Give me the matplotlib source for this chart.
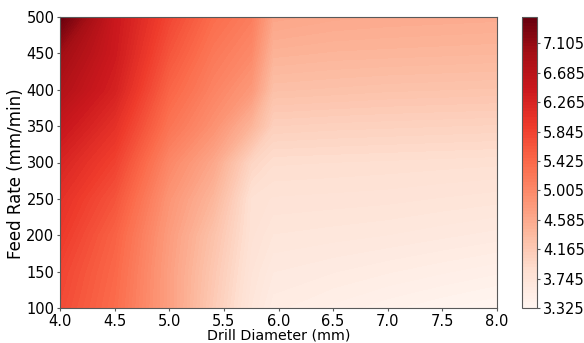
import numpy as np
import matplotlib
matplotlib.use("Agg")
import matplotlib.pyplot as plt

# drill diameter (mm) and feed rate (mm/min) grid nodes
diameters = [4.0, 4.5, 5.0, 5.4, 5.75, 5.95, 6.5, 7.0, 7.5, 8.0]
feed_rates = [100, 150, 200, 250, 300, 350, 400, 450, 500]

# response values, one row per feed rate (bottom to top)
z_100 = [5.75, 5.37, 4.72, 4.15, 3.70, 3.55, 3.48, 3.42, 3.37, 3.325]
z_150 = [5.82, 5.42, 4.72, 4.20, 3.75, 3.62, 3.58, 3.54, 3.50, 3.46]
z_200 = [5.95, 5.49, 4.76, 4.27, 3.80, 3.70, 3.68, 3.66, 3.63, 3.60]
z_250 = [6.07, 5.65, 4.85, 4.43, 3.82, 3.78, 3.77, 3.76, 3.74, 3.72]
z_300 = [6.25, 5.85, 5.02, 4.62, 4.00, 3.88, 3.87, 3.86, 3.85, 3.84]
z_350 = [6.50, 6.07, 5.27, 4.90, 4.45, 4.08, 4.06, 4.05, 4.04, 4.03]
z_400 = [6.78, 6.30, 5.46, 5.08, 4.80, 4.30, 4.28, 4.26, 4.25, 4.24]
z_450 = [7.00, 6.42, 5.64, 5.22, 5.00, 4.48, 4.45, 4.44, 4.43, 4.42]
z_500 = [7.483, 6.47, 5.80, 5.37, 5.15, 4.65, 4.60, 4.58, 4.57, 4.56]

Z = np.array([z_100, z_150, z_200, z_250, z_300, z_350, z_400, z_450, z_500])
X, Y = np.meshgrid(diameters, feed_rates)

W, H = 584, 343
fig = plt.figure(figsize=(W / 100, H / 100), dpi=100)
ax = fig.add_axes([60 / W, (H - 308) / H, 437 / W, 291 / H])
cax = fig.add_axes([522 / W, (H - 308) / H, 15 / W, 291 / H])

levels = np.linspace(Z.min(), Z.max(), 100)
cs = ax.contourf(X, Y, Z, levels=levels, cmap="Reds")
ax.set_xlabel("Drill Diameter (mm)", fontsize=10.3, labelpad=0)
ax.set_ylabel("Feed Rate (mm/min)", fontsize=12)
ax.yaxis.set_label_coords(-0.08, 0.46)
ax.tick_params(labelsize=10.5, length=2, pad=2, color="0.35")
for s in ax.spines.values():
    s.set_color("0.35")

cb = fig.colorbar(cs, cax=cax)
cb.outline.set_edgecolor("0.35")
cax.tick_params(labelsize=10.5, length=2.5, pad=2, color="0.35")

fig.savefig("out.png", dpi=100)
